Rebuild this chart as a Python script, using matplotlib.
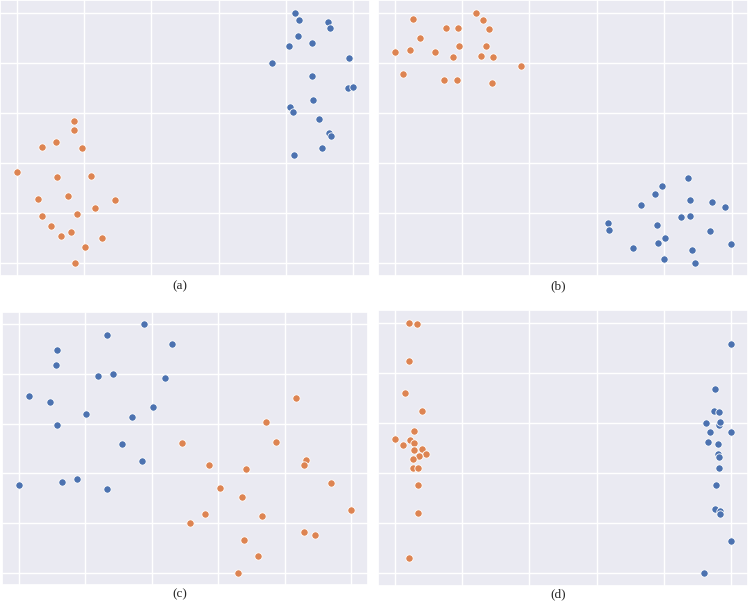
import matplotlib
matplotlib.use("Agg")
import matplotlib.pyplot as plt
import seaborn as sns

sns.set_theme(style="darkgrid")

BLUE = "#4C72B0"
ORANGE = "#DD8452"

# panel (a)
a_blue_x = [0.828, 0.839, 0.926, 0.931, 0.836, 0.879, 0.808, 0.758, 0.988, 0.877,
            0.985, 1.000, 0.881, 0.811, 0.820, 0.897, 0.928, 0.934, 0.907, 0.825]
a_blue_y = [1.000, 0.970, 0.962, 0.940, 0.905, 0.880, 0.865, 0.800, 0.819, 0.746,
            0.698, 0.702, 0.651, 0.623, 0.604, 0.575, 0.520, 0.509, 0.459, 0.434]
a_orange_x = [0.171, 0.171, 0.116, 0.075, 0.195, 0.000, 0.118, 0.220, 0.064, 0.152,
              0.291, 0.232, 0.076, 0.180, 0.103, 0.131, 0.160, 0.252, 0.203, 0.173]
a_orange_y = [0.569, 0.530, 0.484, 0.466, 0.459, 0.366, 0.343, 0.347, 0.257, 0.270,
              0.254, 0.222, 0.189, 0.198, 0.148, 0.111, 0.124, 0.102, 0.067, 0.000]

# panel (b)
b_orange_x = [0.054, 0.153, 0.188, 0.241, 0.262, 0.279, 0.074, 0.190, 0.270, 0.000,
              0.045, 0.118, 0.174, 0.256, 0.293, 0.375, 0.024, 0.147, 0.184, 0.289]
b_orange_y = [0.974, 0.940, 0.940, 1.000, 0.971, 0.933, 0.898, 0.868, 0.868, 0.844,
              0.849, 0.841, 0.823, 0.827, 0.824, 0.787, 0.755, 0.731, 0.733, 0.718]
b_blue_x = [0.871, 0.793, 0.774, 0.876, 0.942, 0.732, 0.982, 0.851, 0.877, 0.632,
            0.778, 0.636, 0.936, 0.801, 0.783, 0.999, 0.707, 0.883, 0.798, 0.892]
b_blue_y = [0.340, 0.308, 0.278, 0.253, 0.245, 0.231, 0.225, 0.187, 0.190, 0.160,
            0.155, 0.132, 0.131, 0.101, 0.081, 0.077, 0.060, 0.052, 0.019, 0.000]

# panel (c)
c_blue_x = [0.378, 0.266, 0.462, 0.114, 0.112, 0.240, 0.283, 0.439, 0.030, 0.095,
            0.403, 0.202, 0.340, 0.116, 0.311, 0.370, 0.000, 0.130, 0.176, 0.267]
c_blue_y = [1.000, 0.959, 0.921, 0.898, 0.837, 0.791, 0.801, 0.783, 0.710, 0.687,
            0.667, 0.638, 0.627, 0.595, 0.520, 0.448, 0.352, 0.366, 0.377, 0.337]
c_orange_x = [0.835, 0.743, 0.772, 0.491, 0.864, 0.859, 0.572, 0.683, 0.940, 0.604,
              0.671, 1.000, 0.561, 0.730, 0.515, 0.858, 0.892, 0.677, 0.719, 0.659]
c_orange_y = [0.703, 0.606, 0.528, 0.524, 0.455, 0.432, 0.434, 0.418, 0.362, 0.341,
              0.305, 0.251, 0.237, 0.230, 0.198, 0.162, 0.152, 0.130, 0.068, 0.000]

# panel (d)
d_orange_x = [0.042, 0.066, 0.042, 0.029, 0.081, 0.057, 0.000, 0.044, 0.025, 0.056,
              0.056, 0.081, 0.094, 0.071, 0.054, 0.053, 0.070, 0.068, 0.069, 0.042]
d_orange_y = [1.000, 0.993, 0.845, 0.721, 0.649, 0.566, 0.536, 0.530, 0.511, 0.518,
              0.494, 0.497, 0.477, 0.470, 0.458, 0.419, 0.419, 0.352, 0.241, 0.061]
d_blue_x = [0.998, 0.951, 0.948, 0.963, 0.926, 0.965, 0.967, 0.936, 0.999, 0.932,
            0.961, 0.962, 0.965, 0.963, 0.955, 0.953, 0.968, 0.967, 1.000, 0.918]
d_blue_y = [0.913, 0.734, 0.649, 0.645, 0.599, 0.592, 0.604, 0.563, 0.564, 0.522,
            0.514, 0.475, 0.465, 0.420, 0.354, 0.256, 0.250, 0.236, 0.128, 0.000]

panels = [
    ("(a)", a_blue_x, a_blue_y, a_orange_x, a_orange_y),
    ("(b)", b_blue_x, b_blue_y, b_orange_x, b_orange_y),
    ("(c)", c_blue_x, c_blue_y, c_orange_x, c_orange_y),
    ("(d)", d_blue_x, d_blue_y, d_orange_x, d_orange_y),
]

W, H = 749, 602
# axes boxes in pixels: left, top, right, bottom
boxes = [(0, 0, 370, 276), (378, 0, 748, 276), (2, 312, 368, 585), (378, 310, 748, 586)]
label_pos = [(180, 286), (558, 286), (180, 594), (558, 594)]

fig = plt.figure(figsize=(W / 100, H / 100), dpi=100)
ticks = [0, 0.2, 0.4, 0.6, 0.8, 1.0]

for (name, bx, by, ox, oy), (l, t, r, b), (tx, ty) in zip(panels, boxes, label_pos):
    ax = fig.add_axes([l / W, 1 - b / H, (r - l) / W, (b - t) / H])
    ax.scatter(bx, by, s=28, color=BLUE, edgecolor="white", linewidth=0.6, zorder=3)
    ax.scatter(ox, oy, s=28, color=ORANGE, edgecolor="white", linewidth=0.6, zorder=3)
    ax.set_xticks(ticks)
    ax.set_yticks(ticks)
    ax.set_xticklabels([])
    ax.set_yticklabels([])
    ax.tick_params(length=0)
    ax.margins(0.05)
    fig.text(tx / W, 1 - ty / H, name, ha="center", va="center",
             family="Liberation Serif", fontsize=9.5)

fig.savefig("out.png", dpi=100)
